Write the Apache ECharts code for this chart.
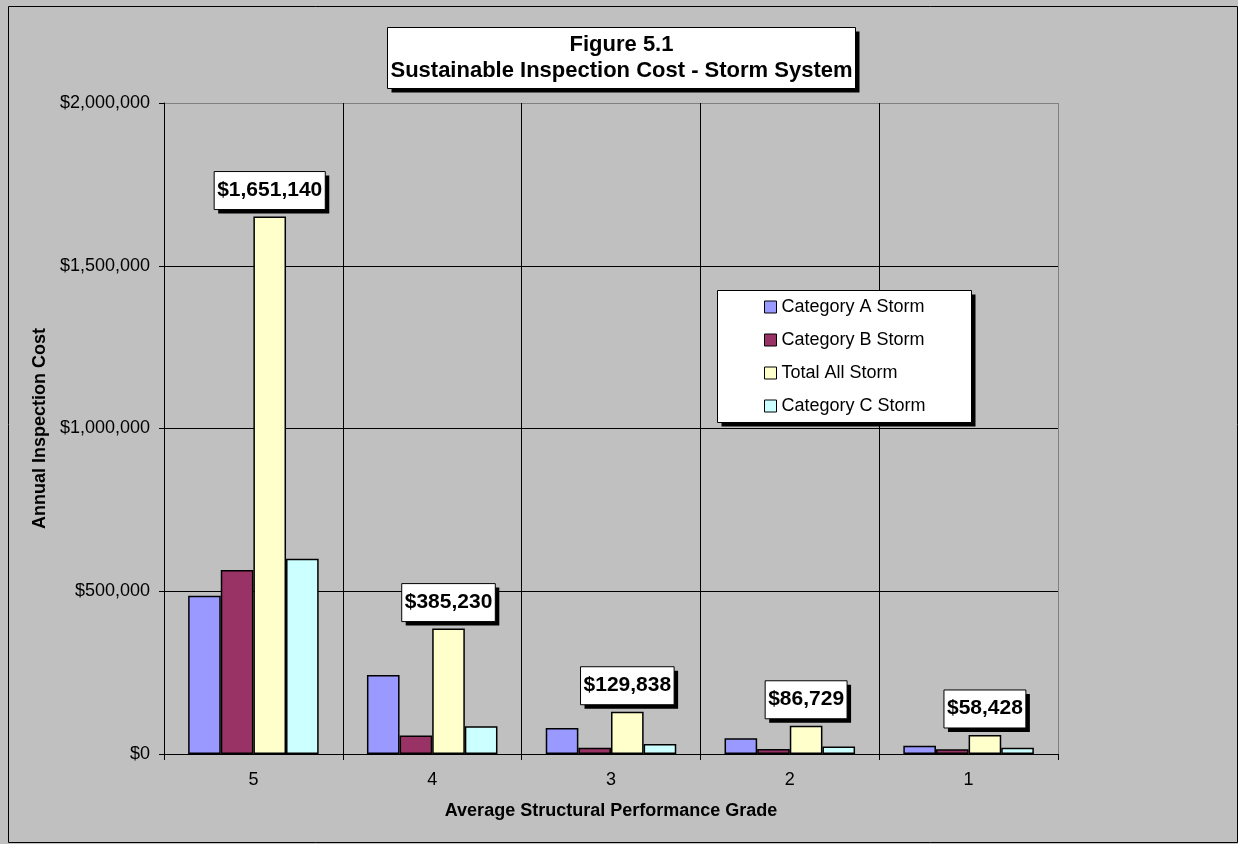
<!DOCTYPE html>
<html>
<head>
<meta charset="utf-8">
<title>Sustainable Inspection Cost - Storm System</title>
<script src="https://cdn.jsdelivr.net/npm/echarts@6/dist/echarts.min.js"></script>
<style>
  html, body { margin: 0; padding: 0; background: #C0C0C0; }
  #chart { width: 1238px; height: 844px; }
</style>
</head>
<body>
<div id="chart"></div>
<script>
// Grades on the x axis, worst to best
const grades = ['5', '4', '3', '2', '1'];

// Annual inspection cost per grade, by category
const categoryA = [486000, 243000, 80000, 48500, 25000];
const categoryB = [565000, 57000, 19000, 15000, 14500];
const totalAll  = [1651140, 385230, 129838, 86729, 58428];
const categoryC = [600000, 85000, 31000, 23000, 19000];

const yTicks = { min: 0, max: 2000000, interval: 500000 };

const titleLines = ['Figure 5.1', 'Sustainable Inspection Cost - Storm System'];

const FONT = 'Arial, "Liberation Sans", Helvetica, sans-serif';
const money = v => '$' + Number(v).toLocaleString('en-US');

const chart = echarts.init(document.getElementById('chart'), null, { renderer: 'canvas' });

const barBorder = { borderColor: '#000', borderWidth: 1.5 };
const barSeries = (name, data, color, extra) => Object.assign({
  name, type: 'bar', data,
  barGap: '0%', barCategoryGap: '27%',
  itemStyle: Object.assign({ color }, barBorder)
}, extra || {});

// White box with a hard black drop shadow, outlined in black
function shadowBox(x, y, w, h) {
  return [
    { type: 'rect', silent: true, z: 3, shape: { x: x + 4, y: y + 4, width: w, height: h }, style: { fill: '#000' } },
    { type: 'rect', silent: true, z: 3, shape: { x: x, y: y, width: w, height: h }, style: { fill: '#fff', stroke: '#000', lineWidth: 1 } }
  ];
}

chart.setOption({
  backgroundColor: '#C0C0C0',
  animation: false,
  legend: {
    orient: 'vertical',
    left: 717,
    top: 290,
    z: 6,
    padding: [8, 46, 8, 47],
    itemGap: 15,
    itemWidth: 12,
    itemHeight: 12,
    icon: 'rect',
    itemStyle: { borderColor: '#000', borderWidth: 1 },
    textStyle: { fontFamily: FONT, fontSize: 18, color: '#000' }
  },
  grid: { left: 164, top: 103, width: 894, height: 651, containLabel: false },
  xAxis: {
    type: 'category',
    data: grades,
    name: 'Average Structural Performance Grade',
    nameLocation: 'middle',
    nameGap: 48,
    nameTextStyle: { fontFamily: FONT, fontSize: 18, fontWeight: 'bold', color: '#000' },
    axisLine: { show: true, lineStyle: { color: '#000', width: 1 } },
    axisTick: { show: true, alignWithLabel: false, length: 6, lineStyle: { color: '#000' } },
    axisLabel: { fontFamily: FONT, fontSize: 18, color: '#000', margin: 17 },
    splitLine: {
      show: true,
      interval: 0,
      lineStyle: { color: ['#000', '#000', '#000', '#000', '#000', '#808080'], width: 1 }
    }
  },
  yAxis: {
    type: 'value',
    min: yTicks.min,
    max: yTicks.max,
    interval: yTicks.interval,
    name: 'Annual Inspection Cost',
    nameLocation: 'middle',
    nameRotate: 90,
    nameGap: 111,
    nameTextStyle: { fontFamily: FONT, fontSize: 18, fontWeight: 'bold', color: '#000' },
    axisLine: { show: true, lineStyle: { color: '#000', width: 1 } },
    axisTick: { show: true, length: 5, lineStyle: { color: '#000' } },
    axisLabel: { fontFamily: FONT, fontSize: 18, color: '#000', margin: 14, formatter: money },
    splitLine: {
      show: true,
      lineStyle: { color: ['#000', '#000', '#000', '#000', '#808080'], width: 1 }
    }
  },
  series: [
    barSeries('Category A Storm', categoryA, '#9999FF'),
    barSeries('Category B Storm', categoryB, '#993366'),
    barSeries('Total All Storm', totalAll, '#FFFFCC', {
      label: {
        show: true,
        position: 'top',
        distance: 7,
        formatter: p => '{box|' + money(p.value) + '}',
        backgroundColor: '#fff',
        padding: 0,
        shadowColor: '#000',
        shadowBlur: 0,
        shadowOffsetX: 4,
        shadowOffsetY: 4,
        rich: {
          box: {
            fontFamily: FONT,
            fontSize: 21,
            fontWeight: 'bold',
            color: '#000',
            borderColor: '#000',
            borderWidth: 1,
            padding: [8, 3, 9, 3]
          }
        }
      }
    }),
    barSeries('Category C Storm', categoryC, '#CCFFFF')
  ],
  graphic: [
    // legend frame
    ...shadowBox(717.5, 290.5, 254, 132),
    // title frame and text
    ...shadowBox(387.5, 27.5, 468, 61),
    {
      type: 'text', silent: true, z: 4,
      x: 621.5, y: 58,
      style: {
        text: titleLines.join('\n'),
        font: 'bold 22px ' + FONT,
        fill: '#000',
        align: 'center',
        verticalAlign: 'middle',
        lineHeight: 26
      }
    },
    // outer chart frame
    {
      type: 'rect',
      silent: true,
      z: 100,
      shape: { x: 8.5, y: 6.5, width: 1229, height: 836 },
      style: { fill: null, stroke: '#000', lineWidth: 1 }
    }
  ]
});
</script>
</body>
</html>
